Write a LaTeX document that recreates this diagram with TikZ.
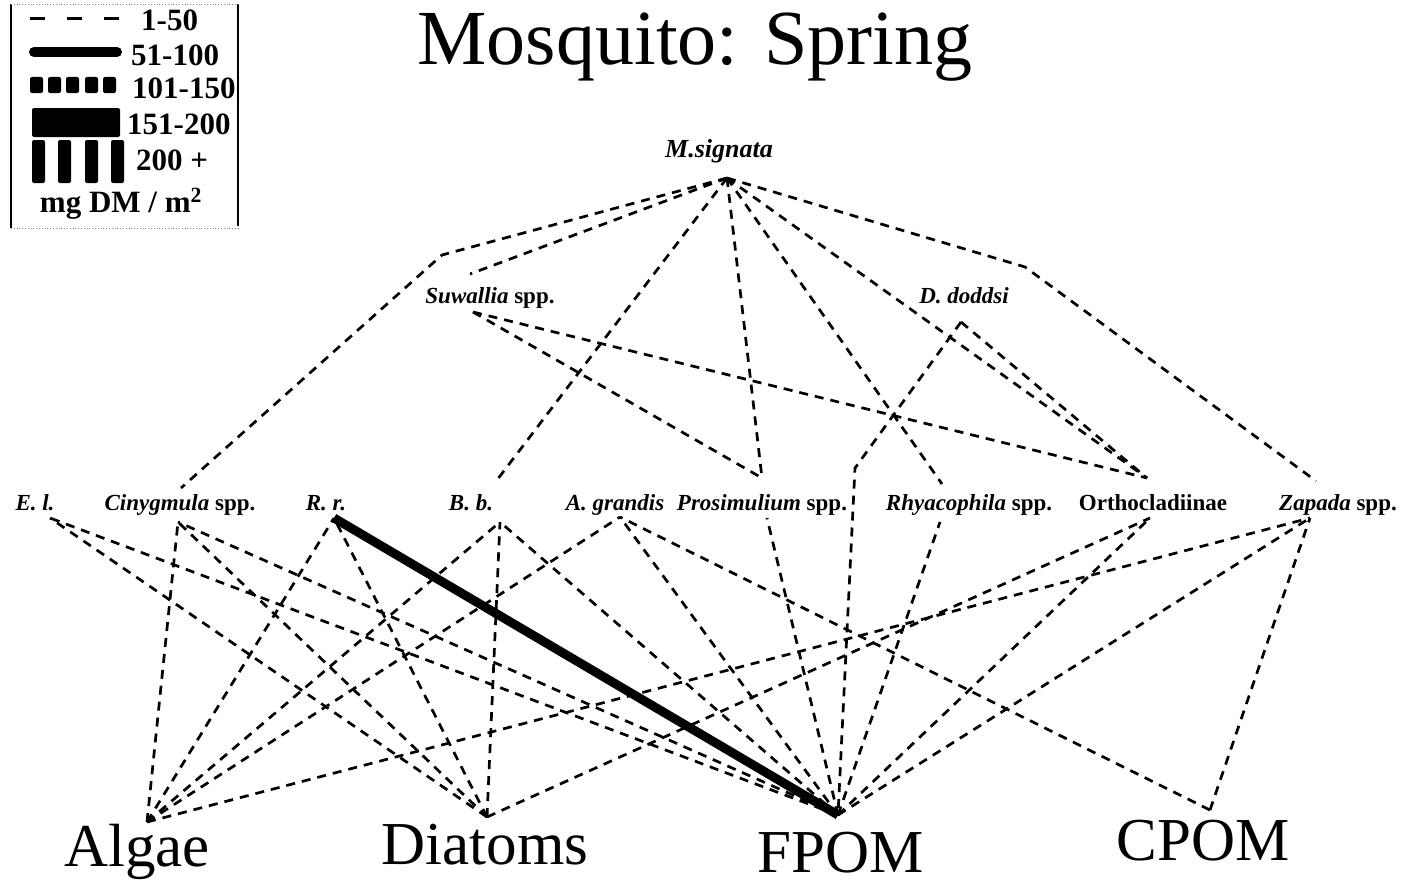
\documentclass[tikz,border=0pt]{standalone}
\usepackage{fontspec}
\setmainfont{Liberation Serif}
\begin{document}
\begin{tikzpicture}[x=1pt,y=-1pt,
  link/.style={line width=2.7pt, dash pattern=on 9pt off 7pt},
  heavy/.style={line width=9pt},
  lbl/.style={font=\fontsize{23}{25}\selectfont\bfseries, inner sep=0pt, anchor=base},
  res/.style={font=\fontsize{61}{64}\selectfont, inner sep=0pt, anchor=base},
  leg/.style={font=\fontsize{31}{32}\selectfont\bfseries, inner sep=0pt, anchor=base west},
  legbar/.style={fill=black, rounded corners=2pt}]
\useasboundingbox (0,0) rectangle (1408,883);
\fill[white] (0,0) rectangle (1408,883);

% title
\node[font=\fontsize{78}{80}\selectfont, inner sep=0pt, anchor=base] (title) at (695,64) {Mosquito: Spring};

% legend
\draw[line width=1.2pt] (11,4) -- (11,228);
\draw[line width=1.2pt] (238,4) -- (238,226);
\draw[line width=0.8pt, gray, dotted] (11,4) -- (238,4);
\draw[line width=0.8pt, gray, dotted] (11,228) -- (238,228);
\draw[line width=3pt, dash pattern=on 15pt off 22pt] (30,19) -- (120,19);
\draw[line width=10pt, line cap=round] (34,52) -- (117,52);
\foreach \x in {30,48,66,85,103} \fill[legbar] (\x,77) rectangle ++(13,16);
\fill[legbar] (32,108) rectangle (120,137);
\foreach \x in {32,58,85,111} \fill[legbar] (\x,140) rectangle ++(13,43);
\node[leg] (l1) at (141,31) {1-50};
\node[leg] (l2) at (131,66) {51-100};
\node[leg] (l3) at (132,99) {101-150};
\node[leg] (l4) at (127,134) {151-200};
\node[leg] (l5) at (136,170) {200 +};
\node[leg, anchor=base] (l6) at (121,212) {mg DM / m\textsuperscript{2}};

% taxon labels
\node[lbl, font=\fontsize{26}{28}\selectfont\bfseries] (Ml) at (719,157) {\itshape M.signata};
\node[lbl] (Sul) at (490,303) {{\itshape Suwallia} spp.};
\node[lbl] (Ddl) at (964,303) {\itshape D. doddsi};
\node[lbl] (Ell) at (35,510) {\itshape E. l.};
\node[lbl] (Cil) at (180,510) {{\itshape Cinygmula} spp.};
\node[lbl] (Rrl) at (326,510) {\itshape R. r.};
\node[lbl] (Bbl) at (471,510) {\itshape B. b.};
\node[lbl] (Agl) at (615,510) {\itshape A. grandis};
\node[lbl] (Prl) at (762,510) {{\itshape Prosimulium} spp.};
\node[lbl] (Rhl) at (969,510) {{\itshape Rhyacophila} spp.};
\node[lbl] (Orl) at (1153,510) {Orthocladiinae};
\node[lbl] (Zal) at (1338,510) {{\itshape Zapada} spp.};

% resources
\node[res] (Alg) at (137,866) {Algae};
\node[res] (Dia) at (485,864) {Diatoms};
\node[res] (Fpo) at (841,872) {FPOM};
\node[res] (Cpo) at (1203,860) {CPOM};

% anchor points
\coordinate (M) at (727,178);
\coordinate (SuT) at (470,274);
\coordinate (SuB) at (473,312);
\coordinate (DdB) at (961,322);
\coordinate (CiT) at (181,488);
\coordinate (CiB) at (178,522);
\coordinate (ElB) at (50,518);
\coordinate (RrB) at (334,518);
\coordinate (BbT) at (497,480);
\coordinate (BbB) at (500,522);
\coordinate (AgB) at (620,517);
\coordinate (PrT) at (762,478);
\coordinate (PrB) at (767,518);
\coordinate (RhT) at (942,484);
\coordinate (RhB) at (940,522);
\coordinate (OrT) at (1147,478);
\coordinate (OrB) at (1150,518);
\coordinate (ZaT) at (1316,481);
\coordinate (ZaB) at (1310,518);
\coordinate (Al) at (147,822);
\coordinate (Di) at (487,817);
\coordinate (FP) at (838,815);
\coordinate (CP) at (1210,810);
\coordinate (b1) at (442,255);
\coordinate (b2) at (1025,267);
\coordinate (b3) at (855,468);

% predator links
\draw[link] (M) -- (b1) -- (CiT);
\draw[link] (M) -- (SuT);
\draw[link] (M) -- (BbT);
\draw[link] (M) -- (PrT);
\draw[link] (M) -- (RhT);
\draw[link] (M) -- (OrT);
\draw[link] (M) -- (b2) -- (ZaT);
\draw[link] (SuB) -- (PrT);
\draw[link] (SuB) -- (OrT);
\draw[link] (DdB) -- (b3) -- (FP);
\draw[link] (DdB) -- (OrT);

% algae
\foreach \s in {CiB,RrB,BbB,AgB,ZaB} \draw[link] (Al) -- (\s);
% diatoms
\foreach \s in {ElB,CiB,RrB,BbB,OrB} \draw[link] (Di) -- (\s);
% FPOM
\foreach \s in {ElB,CiB,BbB,AgB,PrB,RhB,OrB,ZaB} \draw[link] (FP) -- (\s);
\draw[heavy] (RrB) -- (FP);
% CPOM
\foreach \s in {AgB,ZaB} \draw[link] (CP) -- (\s);
\end{tikzpicture}
\end{document}
